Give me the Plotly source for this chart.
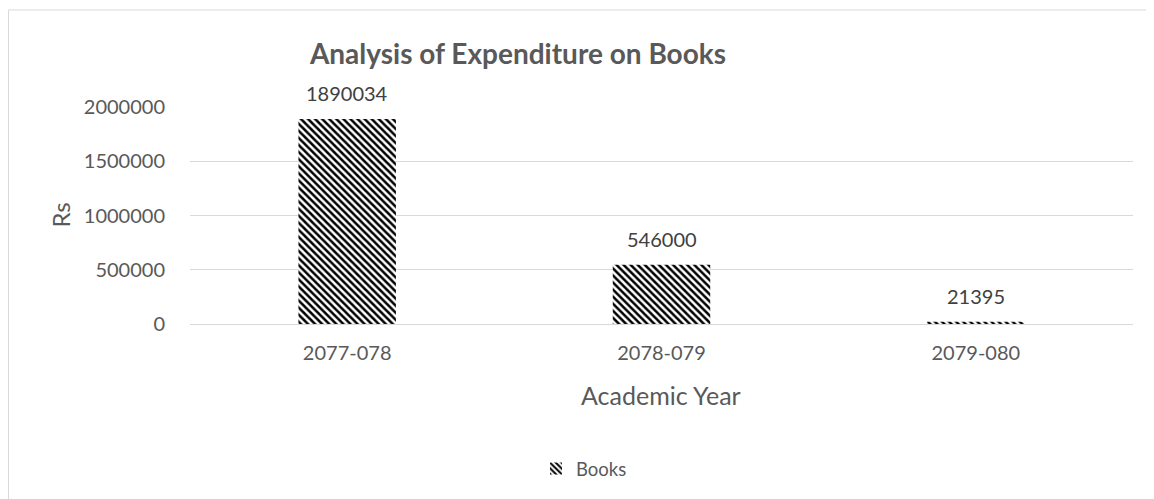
import plotly.graph_objects as go

years = ["2077-078", "2078-079", "2079-080"]
books = [1890034, 546000, 21395]
y_ticks = [0, 500000, 1000000, 1500000, 2000000]

# the page puts the plot 8px in from the top-left corner
OFF = 8
W, H = 1154 - OFF, 499 - OFF
L, R, T, B = 190 - OFF, 21, 107 - OFF, 174
pw = W - L - R
ph = H - T - B


def px_x(px):
    # px is a position in the reference picture
    return (px - OFF - L) / pw


def px_y(py):
    return (H - B - (py - OFF)) / ph


grey = "#595959"
grid = "#d9d9d9"
font = "Lato, 'Open Sans', sans-serif"

fig = go.Figure()

fig.add_trace(go.Bar(
    x=years,
    y=books,
    name="Books",
    width=0.31,
    marker=dict(
        color="white",
        line=dict(width=0),
        pattern=dict(shape="\\", fgcolor="black", bgcolor="white",
                     size=5, solidity=0.5, fillmode="replace"),
    ),
    hovertemplate="%{x}: %{y}<extra></extra>",
))

# data labels above bars
for yr, v in zip(years, books):
    fig.add_annotation(
        x=yr, y=v, text=str(v), showarrow=False,
        yshift=26, yanchor="middle",
        font=dict(size=20, color="#404040", family=font),
    )

# axis titles
fig.add_annotation(
    x=px_x(60), y=px_y(216), xref="paper", yref="paper",
    xanchor="center", yanchor="middle",
    text="Rs", textangle=-90, showarrow=False,
    font=dict(size=24, color=grey, family=font),
)
fig.add_annotation(
    x=px_x(661), y=px_y(396), xref="paper", yref="paper",
    xanchor="center", yanchor="middle",
    text="Academic Year", showarrow=False,
    font=dict(size=25, color=grey, family=font),
)

# chart border
fig.add_shape(
    type="rect", xref="paper", yref="paper",
    x0=px_x(8.5), x1=px_x(1170), y0=px_y(520), y1=px_y(9.5),
    line=dict(color="#d9d9d9", width=1), fillcolor="rgba(0,0,0,0)",
    layer="below",
)

fig.update_layout(
    width=W, height=H,
    margin=dict(l=L, r=R, t=T, b=B),
    paper_bgcolor="white",
    plot_bgcolor="white",
    font=dict(family=font, color=grey, size=16),
    title=dict(
        text="<b>Analysis of Expenditure on Books</b>",
        x=(518 - OFF) / W, xanchor="center",
        y=1 - (54 - OFF) / H, yanchor="middle",
        font=dict(size=28, color=grey, family=font),
    ),
    showlegend=True,
    legend=dict(
        orientation="h",
        x=px_x(584), xanchor="center",
        y=px_y(469), yanchor="middle",
        font=dict(size=18.5, color=grey, family=font),
        bgcolor="rgba(0,0,0,0)",
    ),
    bargap=0.69,
)

fig.update_xaxes(
    showgrid=False, showline=True, linecolor=grid, linewidth=1,
    ticks="", ticklabelstandoff=11,
    tickfont=dict(size=20, color=grey, family=font),
)
fig.update_yaxes(
    range=[0, 2000000], tickvals=y_ticks,
    ticktext=[str(t) for t in y_ticks],
    showgrid=True, gridcolor=grid, gridwidth=1,
    zeroline=False, showline=False, ticks="",
    ticklabelstandoff=24,
    tickfont=dict(size=20, color=grey, family=font),
)

fig.write_html("out.html")
